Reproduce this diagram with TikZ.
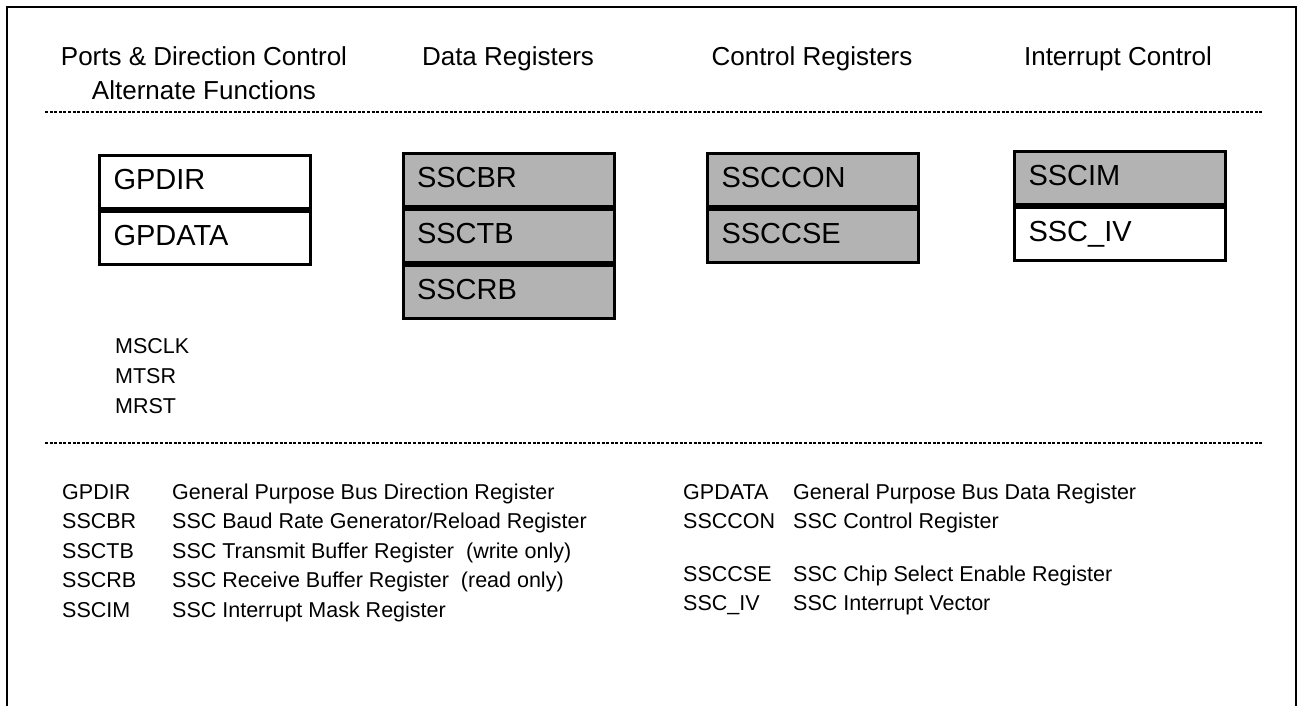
\documentclass[tikz,border=0pt]{standalone}
\usepackage{fontspec}
\setmainfont{Liberation Sans}
\usetikzlibrary{positioning}
\definecolor{ink}{HTML}{000000}
\definecolor{regGray}{HTML}{B3B3B3}
\tikzset{
  header/.style={font=\fontsize{26}{34}\selectfont, text=ink},
  regbox/.style={draw=ink, line width=3pt, fill=white, minimum width=211pt, minimum height=53pt, text width=183pt, inner xsep=14pt, inner ysep=0pt, text height=20pt, text depth=5pt, align=left, font=\fontsize{29}{30}\selectfont, text=ink},
  grayreg/.style={regbox, fill=regGray},
  pinlabel/.style={font=\fontsize{21.5}{24}\selectfont, text=ink, anchor=base west, inner sep=0pt},
  legend/.style={font=\fontsize{21.5}{29.5}\selectfont, text=ink, anchor=base west, inner sep=0pt},
  sepline/.style={draw=ink, line width=2.2pt, dash pattern=on 3pt off 1.6pt},
  frameline/.style={draw=ink, line width=2pt}
}

\begin{document}
\begin{tikzpicture}[x=1pt,y=-1pt]
\useasboundingbox (0,0) rectangle (1298,705);

% outer frame, open at the bottom
\draw[frameline] (7,712) |- (1296,7) -- (1296,712);

% column headers
\node[header, align=center] (portshdr) at (204,73) {Ports \& Direction Control\\Alternate Functions};
\node[header, anchor=base] (datahdr) at (508,65) {Data Registers};
\node[header, anchor=base] (ctrlhdr) at (812,65) {Control Registers};
\node[header, anchor=base] (irqhdr) at (1118,65) {Interrupt Control};

\draw[sepline] (45,112) -- (1262,112);

% register blocks
\node[regbox] (gpdir) at (205,181.5) {GPDIR};
\node[regbox, below=0pt of gpdir] (gpdata) {GPDATA};

\node[grayreg] (sscbr) at (508.5,179.5) {SSCBR};
\node[grayreg, below=0pt of sscbr] (ssctb) {SSCTB};
\node[grayreg, below=0pt of ssctb] (sscrb) {SSCRB};

\node[grayreg] (ssccon) at (813,179.5) {SSCCON};
\node[grayreg, below=0pt of ssccon] (ssccse) {SSCCSE};

\node[grayreg] (sscim) at (1120,177.5) {SSCIM};
\node[regbox, below=0pt of sscim] (sscvec) {SSC\textunderscore IV};

% port pins
\node[pinlabel] (msclk) at (115,353) {MSCLK};
\node[pinlabel] (mtsr) at (115,383) {MTSR};
\node[pinlabel] (mrst) at (115,413) {MRST};

\draw[sepline] (45,443) -- (1262,443);

% register legend
\node[legend] (legendL) at (62,499) {\begin{tabular}[t]{@{}p{110pt}@{}l@{}}
GPDIR & General Purpose Bus Direction Register\\
SSCBR & SSC Baud Rate Generator/Reload Register\\
SSCTB & SSC Transmit Buffer Register \ (write only)\\
SSCRB & SSC Receive Buffer Register \ (read only)\\
SSCIM & SSC Interrupt Mask Register
\end{tabular}};

\node[legend] (legendR) at (683,499) {\begin{tabular}[t]{@{}p{110pt}@{}l@{}}
GPDATA & General Purpose Bus Data Register\\
SSCCON & SSC Control Register\\[23pt]
SSCCSE & SSC Chip Select Enable Register\\
SSC\textunderscore IV & SSC Interrupt Vector
\end{tabular}};

\end{tikzpicture}
\end{document}
